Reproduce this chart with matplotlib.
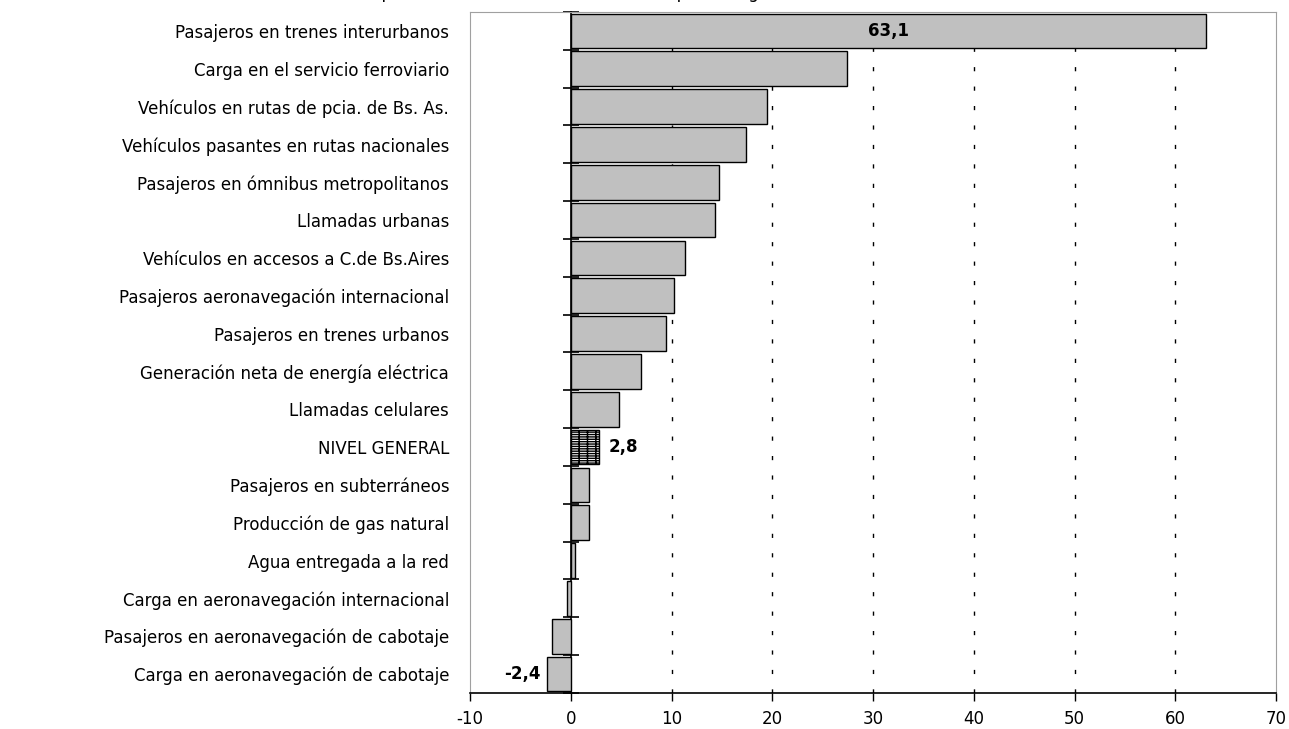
import matplotlib
matplotlib.use("Agg")
import matplotlib.pyplot as plt
import numpy as np

# Categories top to bottom and their percentage change
categories = [
    "Pasajeros en trenes interurbanos",
    "Carga en el servicio ferroviario",
    "Vehículos en rutas de pcia. de Bs. As.",
    "Vehículos pasantes en rutas nacionales",
    "Pasajeros en ómnibus metropolitanos",
    "Llamadas urbanas",
    "Vehículos en accesos a C.de Bs.Aires",
    "Pasajeros aeronavegación internacional",
    "Pasajeros en trenes urbanos",
    "Generación neta de energía eléctrica",
    "Llamadas celulares",
    "NIVEL GENERAL",
    "Pasajeros en subterráneos",
    "Producción de gas natural",
    "Agua entregada a la red",
    "Carga en aeronavegación internacional",
    "Pasajeros en aeronavegación de cabotaje",
    "Carga en aeronavegación de cabotaje",
]
values = [63.1, 27.4, 19.5, 17.4, 14.7, 14.3, 11.3, 10.2, 9.5, 7.0,
          4.8, 2.8, 1.8, 1.8, 0.4, -0.4, -1.9, -2.4]
xticks = [-10, 0, 10, 20, 30, 40, 50, 60, 70]
title = "Variación porcentual de cada servicio con respecto a igual mes del año anterior"

plt.rcParams['font.family'] = ['DejaVu Sans']

fig = plt.figure(figsize=(12.89, 7.29), dpi=100)
ax = fig.add_axes([470 / 1289, 1 - 693 / 729, 806 / 1289, 681 / 729])

y = np.arange(len(categories))
colors = ['white' if c == "NIVEL GENERAL" else '#c0c0c0' for c in categories]
bars = ax.barh(y, values, height=0.92, color=colors, edgecolor='black',
               linewidth=1.0, zorder=3)
for b, c in zip(bars, categories):
    if c == "NIVEL GENERAL":
        b.set_hatch('-------||')

ax.set_xlim(-10, 70)
ax.set_ylim(len(categories) - 0.5, -0.5)

# dashed vertical gridlines
for t in xticks[2:-1]:
    ax.axvline(t, color='black', linewidth=1.0, dashes=(3, 11), zorder=1)

ax.set_xticks(xticks)
ax.set_xticklabels([str(t) for t in xticks], fontsize=12)
ax.tick_params(axis='x', direction='out', length=6, width=1, pad=6, colors='black')
ax.set_yticks(y)
ax.set_yticklabels(categories, fontsize=12)
ax.tick_params(axis='y', length=0, pad=15)

for side in ['top', 'right', 'left']:
    ax.spines[side].set_color('#a0a0a0')
ax.spines['bottom'].set_color('black')
ax.spines['bottom'].set_linewidth(1.2)

# category axis crossing at zero
sec = ax.secondary_yaxis(10 / 80)
sec.set_yticks(np.arange(len(categories) + 1) - 0.5)
sec.set_yticklabels([])
sec.tick_params(direction='inout', length=11, width=1.2, colors='black')
sec.spines['left'].set_color('black')
sec.spines['left'].set_linewidth(1.2)

# value labels
fmt = lambda v: f"{v:.1f}".replace('.', ',')
ax.text(values[0] / 2, 0, fmt(values[0]), ha='center', va='center',
        fontsize=12, fontweight='bold', zorder=4)
ax.text(values[11] + 1.0, 11, fmt(values[11]), ha='left', va='center',
        fontsize=12, fontweight='bold', zorder=4)
ax.text(values[-1] - 0.6, len(categories) - 1, fmt(values[-1]), ha='right',
        va='center', fontsize=12, fontweight='bold', zorder=4)

# title sits mostly above the visible area, as in the source image
fig.text(631 / 1289, 1 + 1.5 / 729, title, ha='center', va='baseline', fontsize=12)

fig.savefig("out.png", dpi=100)
